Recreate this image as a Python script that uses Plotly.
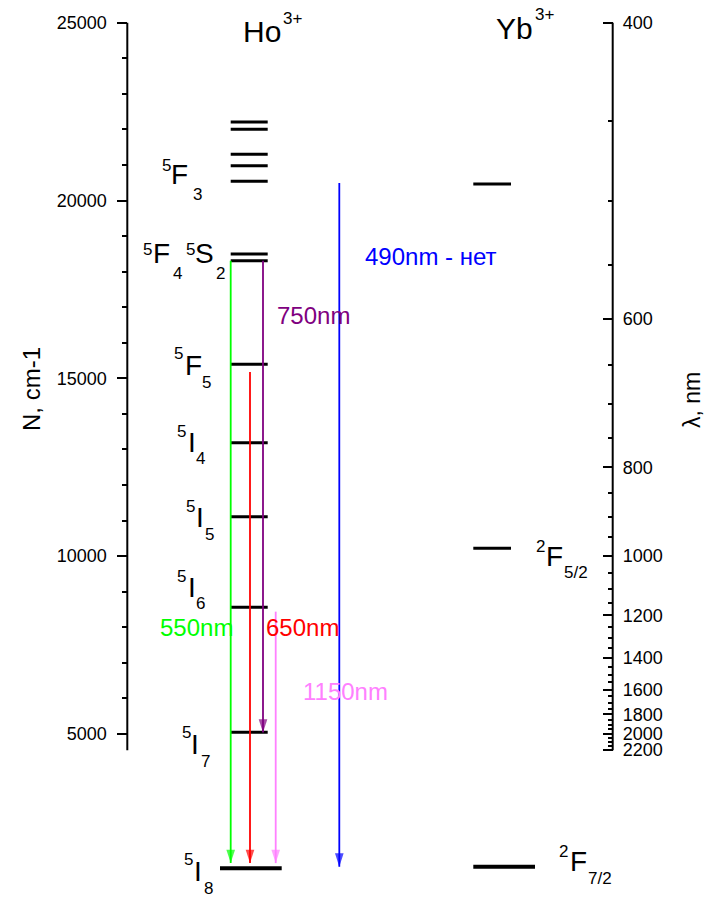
import plotly.graph_objects as go

W, H = 706, 897
FONT = "Liberation Sans, Arial, sans-serif"

# ---- data -------------------------------------------------------------
# Ho3+ energy levels (cm^-1), top to bottom; ground level drawn separately
ho_levels = [22208, 22003, 21300, 20979, 20541, 18497, 18308,
             15396, 13191, 11111, 8563, 5049]
ho_ground = 1225

# Yb3+ energy levels (cm^-1)
yb_levels = [20462, 10222]
yb_ground = 1270

# radiative transitions: label, start / end energy (cm^-1), colour
arrow_labels = ["550nm", "650nm", "750nm", "1150nm", "490nm - нет"]
arrow_start = [18308, 15180, 18308, 8440, 20490]
arrow_end = [1370, 1370, 5040, 1370, 1270]
arrow_colors = ["#00FF00", "#FF0000", "#800080", "#FF80FF", "#0000FF"]

# wavenumber axis ticks
n_ticks = [5000, 10000, 15000, 20000, 25000]
n_minor = [v for v in range(6000, 25000, 1000) if v not in n_ticks]

# wavelength axis ticks (nm)
wl_ticks = [400, 600, 800, 1000, 1200, 1400, 1600, 1800, 2000, 2200]
wl_minor = [w for w in range(450, 2200, 50) if w not in wl_ticks]

# ---- layout geometry (pixels across the page) --------------------------
X_AXL, X_AXR = 127.3, 612.7
HO_X = (230.7, 267.7)
HO_GROUND_X = (220.0, 281.7)
YB_X = (473.3, 511.0)
YB_GROUND_X = (473.3, 535.0)
ARROW_X = [230.7, 250.0, 263.0, 275.7, 339.3]

# vertical scale: 25000 cm^-1 at 22.7 px, 5000 cm^-1 at 734 px
K = (734.0 - 22.7) / 20000.0
Y_TOP = 25000 + 22.7 / K
Y_BOT = 25000 - (H - 22.7) / K
AX_LOW = 1e7 / 2200  # axis lines end at 2200 nm

fig = go.Figure()


def level_trace(levels, xr, width):
    xs, ys = [], []
    for e in levels:
        xs += [xr[0], xr[1], None]
        ys += [e, e, None]
    fig.add_trace(go.Scatter(x=xs, y=ys, mode="lines",
                             line=dict(color="black", width=width),
                             hoverinfo="skip", showlegend=False))


level_trace(ho_levels, HO_X, 3)
level_trace([ho_ground], HO_GROUND_X, 4)
level_trace(yb_levels, YB_X, 3)
level_trace([yb_ground], YB_GROUND_X, 4)

# transition arrows
for x, e0, e1, c in zip(ARROW_X, arrow_start, arrow_end, arrow_colors):
    fig.add_trace(go.Scatter(
        x=[x, x], y=[e0, e1], mode="lines+markers",
        line=dict(color=c, width=1.8),
        marker=dict(symbol=["circle", "arrow"], size=[0, 14], angle=180,
                    color=c, line=dict(width=0)),
        hoverinfo="skip", showlegend=False))

# helper trace so the wavelength axis is drawn
fig.add_trace(go.Scatter(x=[None], y=[None], yaxis="y2", showlegend=False))

# axis lines
for xa in (X_AXL, X_AXR):
    fig.add_shape(type="line", xref="x", yref="y", x0=xa, x1=xa,
                  y0=AX_LOW, y1=25000, line=dict(color="black", width=2))


def txt(px, py, s, size, color="black", **kw):
    fig.add_annotation(x=px / W, y=1 - py / H, xref="paper", yref="paper",
                       text=s, showarrow=False, xanchor="center",
                       yanchor="middle", borderpad=0,
                       font=dict(family=FONT, size=size, color=color), **kw)


# ion names
txt(261.7, 31.5, "Ho", 30)
txt(292, 19, "3+", 17)
txt(514, 28, "Yb", 30)
txt(544, 14, "3+", 17)

# term symbols: (superscript, letter, subscript, centres of each part)
terms = [
    ("5", "F", "3", (166, 166), (179.5, 175), (197.5, 194)),
    ("5", "F", "4", (147.5, 249), (161, 253), (177.5, 273.5)),
    ("5", "S", "2", (190.5, 249), (204.5, 253), (221, 273.5)),
    ("5", "F", "5", (178, 354), (193.5, 366), (206.7, 382.5)),
    ("5", "I", "4", (181.5, 431), (192, 442.5), (201, 458.5)),
    ("5", "I", "5", (190.5, 506), (200, 517), (209.5, 534)),
    ("5", "I", "6", (181.5, 576), (192, 587), (201, 603)),
    ("5", "I", "7", (186.5, 732), (195, 744), (205, 761)),
    ("5", "I", "8", (188.5, 859), (198, 871.7), (208, 888)),
    ("2", "F", "5/2", (540, 546), (554.5, 556), (575.5, 572)),
    ("2", "F", "7/2", (563, 851), (578.5, 861), (600, 878)),
]
for sup, let, sub, p_sup, p_let, p_sub in terms:
    txt(*p_sup, sup, 17)
    txt(*p_let, let, 28)
    txt(*p_sub, sub, 17)

# transition labels
label_pos = [(196.5, 627), (302.5, 627), (313, 315.5), (345, 691), (431, 257)]
for (px, py), s, c in zip(label_pos, arrow_labels, arrow_colors):
    txt(px, py, s, 24, color=c)

# axis titles
txt(31, 389, "N, cm-1", 24, textangle=-90)
txt(692, 400, "λ, nm", 23, textangle=-90)

fig.update_layout(
    width=W, height=H,
    margin=dict(l=0, r=0, t=0, b=0),
    paper_bgcolor="white", plot_bgcolor="white",
    font=dict(family=FONT, size=18, color="black"),
    xaxis=dict(range=[0, W], visible=False, fixedrange=True),
    yaxis=dict(
        range=[Y_BOT, Y_TOP], anchor="free", position=X_AXL / W,
        side="left", showline=False, showgrid=False, zeroline=False,
        tickmode="array", tickvals=n_ticks,
        ticktext=[str(v) for v in n_ticks],
        ticks="outside", ticklen=10, tickwidth=2, tickcolor="black",
        ticklabelstandoff=7,
        tickfont=dict(family=FONT, size=18, color="black"),
        minor=dict(tickmode="array", tickvals=n_minor, ticks="outside",
                   ticklen=5, tickwidth=1.5, tickcolor="black",
                   showgrid=False),
    ),
    yaxis2=dict(
        range=[Y_BOT, Y_TOP], overlaying="y", anchor="free",
        position=X_AXR / W, side="right", showline=False, showgrid=False,
        zeroline=False, tickmode="array",
        tickvals=[1e7 / w for w in wl_ticks],
        ticktext=[str(w) for w in wl_ticks],
        ticks="inside", ticklen=10, tickwidth=2, tickcolor="black",
        ticklabelstandoff=9,
        tickfont=dict(family=FONT, size=18, color="black"),
        minor=dict(tickmode="array", tickvals=[1e7 / w for w in wl_minor],
                   ticks="inside", ticklen=5, tickwidth=1.5,
                   tickcolor="black", showgrid=False),
    ),
)

fig.write_html("out.html")
